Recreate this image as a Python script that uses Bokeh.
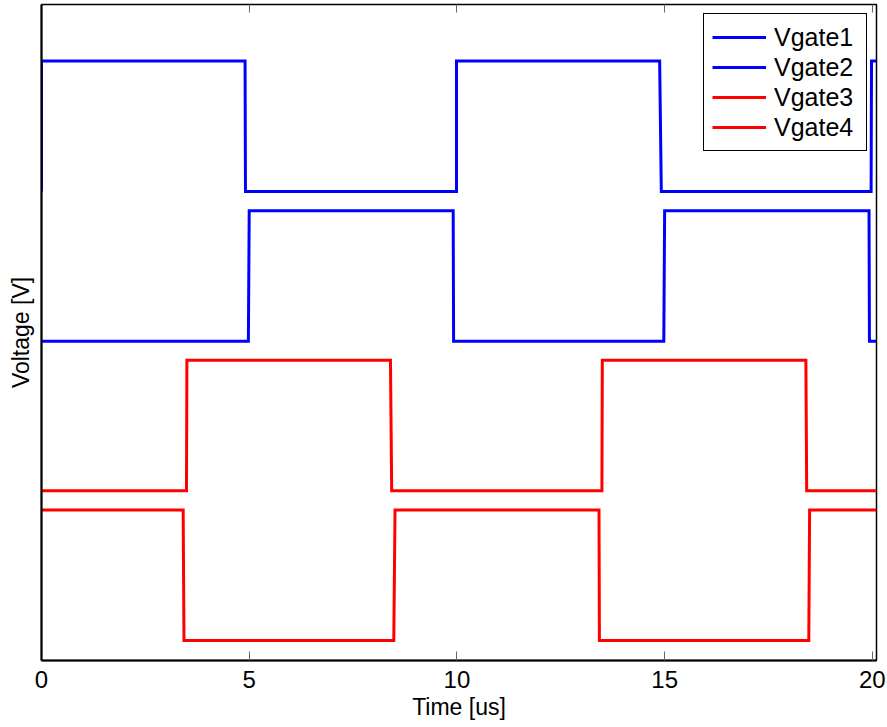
from bokeh.plotting import figure
from bokeh.models import (Range1d, FixedTicker, LinearAxis, Legend, LegendItem,
                          CustomLabelingPolicy)
from bokeh.embed import file_html
from bokeh.resources import INLINE

# Gate drive waveforms (time in us, voltage levels offset per trace)
vgate1_t = [0.0, 0.0, 4.90, 4.91, 9.99, 9.99, 14.88, 14.92, 19.97, 19.98, 20.1]
vgate1_v = [51.6, 66.6, 66.6, 51.6, 51.6, 66.6, 66.6, 51.6, 51.6, 66.6, 66.6]

vgate2_t = [0.0, 4.98, 5.00, 9.91, 9.92, 14.98, 15.00, 19.92, 19.93, 20.1]
vgate2_v = [34.4, 34.4, 49.4, 49.4, 34.4, 34.4, 49.4, 49.4, 34.4, 34.4]

vgate3_t = [0.0, 3.49, 3.50, 8.40, 8.43, 13.49, 13.50, 18.40, 18.42, 20.1]
vgate3_v = [17.2, 17.2, 32.2, 32.2, 17.2, 17.2, 32.2, 32.2, 17.2, 17.2]

vgate4_t = [0.0, 3.41, 3.43, 8.48, 8.51, 13.42, 13.43, 18.47, 18.49, 20.1]
vgate4_v = [15.0, 15.0, 0.0, 0.0, 15.0, 15.0, 0.0, 0.0, 15.0, 15.0]

names = ["Vgate1", "Vgate2", "Vgate3", "Vgate4"]
colors = ["#0000ff", "#0000ff", "#ff0000", "#ff0000"]
x_ticks = [0, 5, 10, 15, 20]

FONT = "Liberation Sans"

p = figure(
    width=887, height=727,
    x_range=Range1d(0, 20.1), y_range=Range1d(-2.3, 73.1),
    output_backend="svg", toolbar_location=None,
    min_border_left=41, min_border_right=11,
    min_border_top=4, min_border_bottom=67,
    x_axis_location=None, y_axis_location=None,
)
p.xgrid.visible = False
p.ygrid.visible = False
p.outline_line_color = "black"
p.outline_line_width = 1.5
p.outline_line_alpha = 1.0
p.background_fill_color = "white"
p.border_fill_color = "white"

# bottom axis with inward ticks
xb = LinearAxis(ticker=FixedTicker(ticks=x_ticks), axis_label="Time [us]")
xb.axis_line_color = "black"
xb.axis_line_width = 2
xb.major_tick_in = 9
xb.major_tick_out = 0
xb.major_tick_line_color = "#666666"
xb.minor_tick_line_color = None
xb.major_label_text_font = FONT
xb.major_label_text_font_size = "24px"
xb.major_label_text_color = "black"
xb.major_label_standoff = 10
xb.axis_label_text_font = FONT
xb.axis_label_text_font_size = "23px"
xb.axis_label_text_font_style = "normal"
xb.axis_label_text_color = "black"
xb.axis_label_standoff = 3
p.add_layout(xb, "below")

# top axis: inward ticks, labels suppressed
xt = LinearAxis(ticker=FixedTicker(ticks=x_ticks))
xt.axis_line_color = "black"
xt.major_tick_in = 8
xt.major_tick_out = 0
xt.major_tick_line_color = "#666666"
xt.minor_tick_line_color = None
xt.major_label_standoff = 0
xt.major_label_text_font_size = "1px"
xt.major_label_policy = CustomLabelingPolicy(code="""
    const all = [...indices]
    for (const i of all)
        indices.unset(i)
    return indices
""")
p.add_layout(xt, "above")

# left axis: label only
yl = LinearAxis(ticker=FixedTicker(ticks=[]), axis_label="Voltage [V]")
yl.axis_line_color = "black"
yl.axis_line_width = 2
yl.major_tick_line_color = None
yl.minor_tick_line_color = None
yl.axis_label_text_font = FONT
yl.axis_label_text_font_size = "23px"
yl.axis_label_text_font_style = "normal"
yl.axis_label_text_color = "black"
yl.axis_label_standoff = 8
p.add_layout(yl, "left")

series = [(vgate1_t, vgate1_v), (vgate2_t, vgate2_v),
          (vgate3_t, vgate3_v), (vgate4_t, vgate4_v)]
items = []
for (t, v), name, c in zip(series, names, colors):
    r = p.line(t, v, line_color=c, line_width=3, line_join="miter")
    items.append(LegendItem(label=name, renderers=[r]))

legend = Legend(items=items, location="top_right")
legend.margin = 9
legend.padding = 8
legend.spacing = 0
legend.glyph_width = 54
legend.glyph_height = 30
legend.label_height = 30
legend.label_width = 84
legend.label_standoff = 8
legend.label_text_font = FONT
legend.label_text_font_size = "25px"
legend.label_text_color = "black"
legend.border_line_color = "black"
legend.border_line_width = 1
legend.border_line_alpha = 1.0
legend.background_fill_color = "white"
legend.background_fill_alpha = 1.0
p.add_layout(legend, "center")

open("out.html", "w").write(file_html(p, INLINE))
